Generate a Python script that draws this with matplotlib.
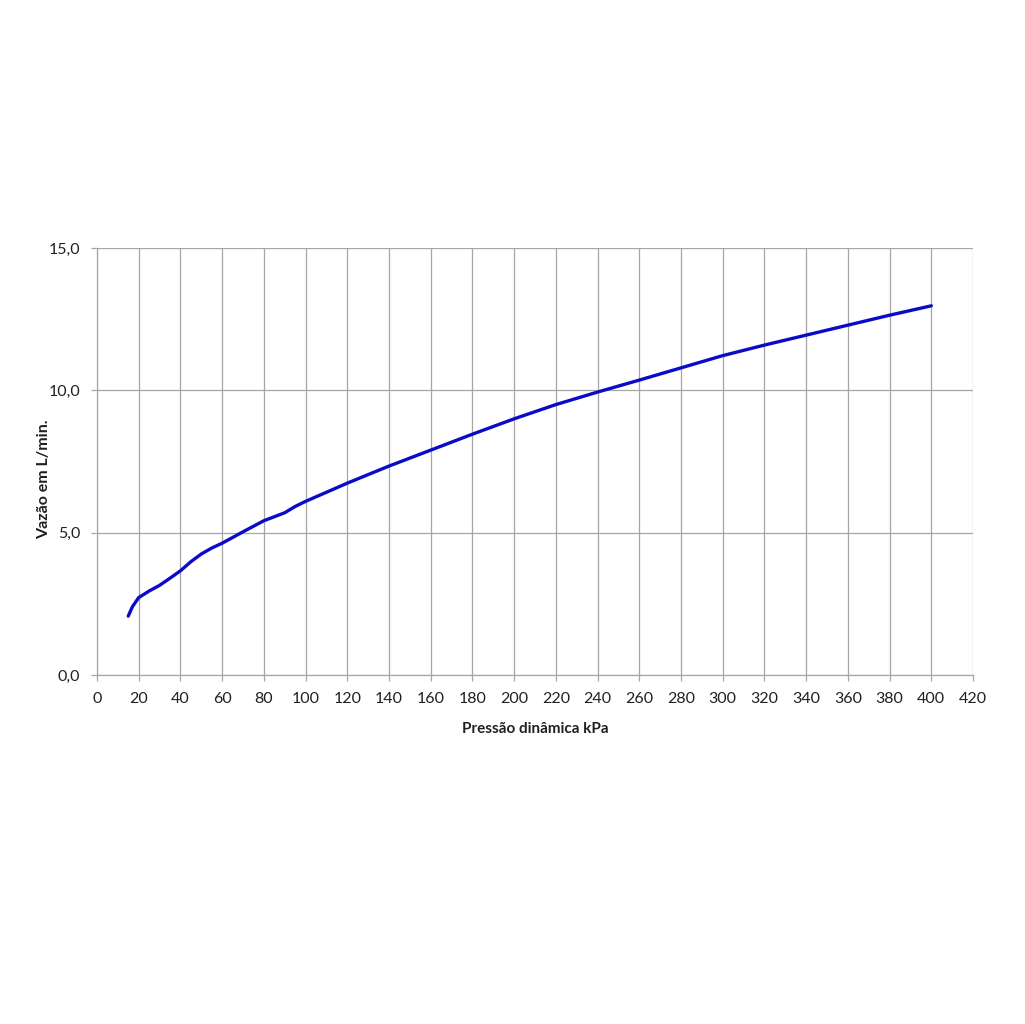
import matplotlib
matplotlib.use("Agg")
import matplotlib.pyplot as plt
from matplotlib.ticker import FuncFormatter

plt.rcParams['font.family'] = ['Lato', 'DejaVu Sans']

# pressao dinamica (kPa) and vazao (L/min)
pressao = [15, 17, 20, 25, 30, 35, 40, 45, 50, 55, 60, 70, 80, 90, 95, 100, 110,
           120, 140, 160, 180, 200, 220, 240, 260, 280, 300, 320, 340, 360, 380, 400]
vazao = [2.07, 2.40, 2.72, 2.95, 3.15, 3.40, 3.66, 3.98, 4.25, 4.46, 4.63, 5.03,
         5.42, 5.70, 5.92, 6.10, 6.42, 6.74, 7.34, 7.90, 8.46, 9.00, 9.50, 9.94,
         10.36, 10.79, 11.22, 11.59, 11.94, 12.29, 12.64, 12.97]

x_ticks = list(range(0, 421, 20))
y_ticks = [0, 5, 10, 15]

fig = plt.figure(figsize=(10.25, 10.24), dpi=100)
ax = fig.add_axes([0.0946, 0.3408, 0.8547, 0.4170])

ax.plot(pressao, vazao, color="#0a0ac8", linewidth=2.4, solid_capstyle="round",
	solid_joinstyle="round", zorder=3)

ax.set_xlim(0, 420)
ax.set_ylim(0, 15)
ax.set_xticks(x_ticks)
ax.set_yticks(y_ticks)
ax.yaxis.set_major_formatter(FuncFormatter(lambda v, p: ("%.1f" % v).replace(".", ",")))
ax.grid(True, color="#a6a6a6", linewidth=0.9)
ax.set_axisbelow(True)
for s in ["top", "right"]:
	ax.spines[s].set_visible(False)
for s in ["left", "bottom"]:
	ax.spines[s].set_color("#a6a6a6")
	ax.spines[s].set_linewidth(0.9)
ax.tick_params(colors="#a6a6a6", labelcolor="#202020", labelsize=11.5, length=4, width=0.9)
ax.tick_params(axis="x", pad=8)
ax.tick_params(axis="y", pad=8)

ax.set_xlabel("Pressão dinâmica kPa", fontsize=11, fontweight="bold", color="#202020", labelpad=12)
ax.set_ylabel("Vazão em L/min.", fontsize=11.5, fontweight="bold", color="#202020")
ax.yaxis.set_label_coords(-0.052, 0.459)

fig.savefig("out.png", dpi=100, facecolor="white")
